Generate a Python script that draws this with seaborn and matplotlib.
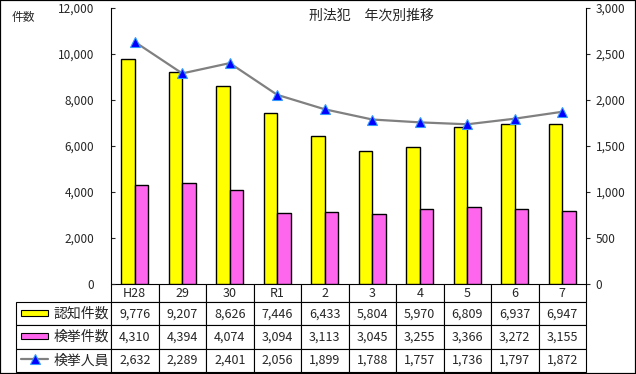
import numpy as np
import pandas as pd
import seaborn as sns
import matplotlib.pyplot as plt
from matplotlib.patches import Rectangle
from matplotlib.lines import Line2D

# data
years = ["H28", "29", "30", "R1", "2", "3", "4", "5", "6", "7"]
ninchi = [9776, 9207, 8626, 7446, 6433, 5804, 5970, 6809, 6937, 6947]
kenkyo_ken = [4310, 4394, 4074, 3094, 3113, 3045, 3255, 3366, 3272, 3155]
kenkyo_jin = [2632, 2289, 2401, 2056, 1899, 1788, 1757, 1736, 1797, 1872]
series_names = ["認知件数", "検挙件数", "検挙人員"]

sns.set_style("white")
plt.rcParams["font.family"] = ["Noto Sans CJK JP", "DejaVu Sans"]

W, H = 636, 374
fig = plt.figure(figsize=(W / 100, H / 100), dpi=100)

def fx(px):
    return px / W

def fy(py):
    return (H - py) / H

# plot area in pixels: x 111..586, y 8..284
ax = fig.add_axes([fx(111), fy(284), fx(586) - fx(111), fy(8) - fy(284)])

df = pd.DataFrame({
    "year": years * 2,
    "series": [series_names[0]] * len(years) + [series_names[1]] * len(years),
    "value": ninchi + kenkyo_ken,
})

yellow = "#FFFF00"
pink = "#FF66EE"
sns.barplot(data=df, x="year", y="value", hue="series", order=years,
            palette={series_names[0]: yellow, series_names[1]: pink},
            edgecolor="black", linewidth=1, width=0.57, saturation=1,
            legend=False, ax=ax)

ax.set_ylim(0, 12000)
ax.set_yticks(np.arange(0, 12001, 2000))
ax.set_yticklabels([f"{v:,}" for v in range(0, 12001, 2000)])
ax.tick_params(axis="y", direction="in", length=3, width=0.8, pad=12, labelsize=8.5)
ax.tick_params(axis="x", bottom=False, labelbottom=False)
ax.set_xlabel("")
ax.set_ylabel("")
for s in ["top", "bottom", "right"]:
    ax.spines[s].set_visible(False)
ax.spines["left"].set_color("black")
ax.spines["left"].set_linewidth(0.8)

# persons on the right axis
ax2 = ax.twinx()
sns.lineplot(x=np.arange(len(years)), y=kenkyo_jin, ax=ax2, color="#808080",
             linewidth=1.6, marker="^", markersize=7.5,
             markerfacecolor="#0000FF", markeredgecolor="#3399FF",
             markeredgewidth=0.8)
ax2.set_ylim(0, 3000)
ax2.set_yticks(np.arange(0, 3001, 500))
ax2.set_yticklabels([f"{v:,}" for v in range(0, 3001, 500)])
ax2.tick_params(axis="y", direction="out", length=3, width=0.8, pad=4, labelsize=8.5)
for s in ["top", "bottom", "left"]:
    ax2.spines[s].set_visible(False)
ax2.spines["right"].set_color("black")
ax2.spines["right"].set_linewidth(0.8)
ax2.set_ylabel("")
ax.set_xlim(-0.5, len(years) - 0.5)

# title and unit label
fig.text(fx(371), fy(16), "刑法犯　年次別推移", ha="center", va="center", fontsize=10)
fig.text(fx(23), fy(18), "件数", ha="center", va="center", fontsize=8.5)

# data table under the chart (bbox covers the grid only, row labels hang to the left)
cell_text = [[f"{v:,}" for v in ninchi],
             [f"{v:,}" for v in kenkyo_ken],
             [f"{v:,}" for v in kenkyo_jin]]
axh = 284 - 8
tab = ax.table(cellText=cell_text, colLabels=years,
               colWidths=[0.1] * len(years), cellLoc="center",
               bbox=[0, -(372 - 284) / axh, 1, (372 - 284) / axh])
tab.auto_set_font_size(False)
for i, name in enumerate(series_names):
    cell = tab.add_cell(i + 1, -1, width=95 / 475, height=23.3, text=name, loc="right")
    cell.PAD = 0.02
for (r, c), cell in tab.get_celld().items():
    cell.set_linewidth(0.8)
    cell.set_edgecolor("black")
    cell.get_text().set_fontsize(9 if c >= 0 else 10)
    cell.set_height(18 if r == 0 else 23.3)

# legend keys inside the row label cells
key_y = [313, 336, 359]
fig.add_artist(Rectangle((fx(21), fy(key_y[0] + 3)), fx(48) - fx(21), fy(key_y[0] - 3) - fy(key_y[0] + 3),
                         facecolor=yellow, edgecolor="black", linewidth=0.8, transform=fig.transFigure))
fig.add_artist(Rectangle((fx(21), fy(key_y[1] + 3)), fx(48) - fx(21), fy(key_y[1] - 3) - fy(key_y[1] + 3),
                         facecolor=pink, edgecolor="black", linewidth=0.8, transform=fig.transFigure))
fig.add_artist(Line2D([fx(21), fx(48)], [fy(key_y[2]), fy(key_y[2])], color="#808080",
                      linewidth=1.6, transform=fig.transFigure))
fig.add_artist(Line2D([fx(34.5)], [fy(key_y[2])], marker="^", markersize=7.5,
                      markerfacecolor="#0000FF", markeredgecolor="#3399FF",
                      markeredgewidth=0.8, transform=fig.transFigure))

# outer frame
fig.add_artist(Rectangle((0, 0), 1, 1, transform=fig.transFigure, fill=False,
                         edgecolor="black", linewidth=1.6))

fig.savefig("out.png", dpi=100)
